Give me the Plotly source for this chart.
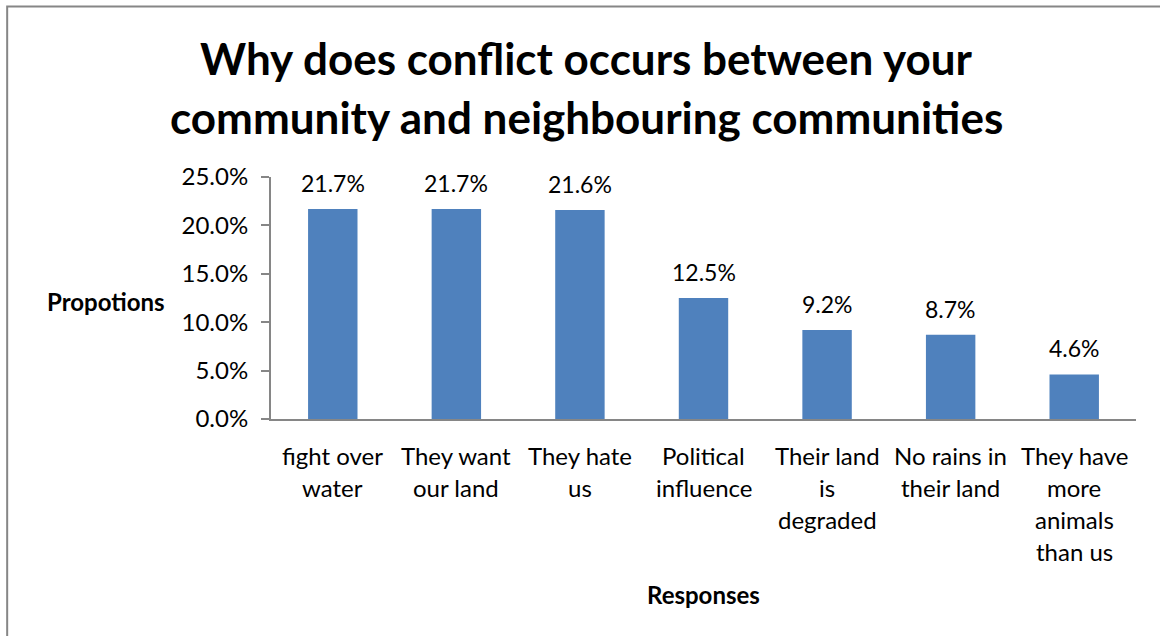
import plotly.graph_objects as go

# Survey responses and their shares (fraction of respondents)
categories = [
    "fight over water",
    "They want our land",
    "They hate us",
    "Political influence",
    "Their land is degraded",
    "No rains in their land",
    "They have more animals than us",
]
label_lines = [
    ["fight over", "water"],
    ["They want", "our land"],
    ["They hate", "us"],
    ["Political", "influence"],
    ["Their land", "is", "degraded"],
    ["No rains in", "their land"],
    ["They have", "more", "animals", "than us"],
]
proportions = [0.217, 0.217, 0.216, 0.125, 0.092, 0.087, 0.046]
y_ticks = [0.0, 0.05, 0.10, 0.15, 0.20, 0.25]

FONT = "Lato, Calibri, Carlito, sans-serif"
BAR = "#4F81BD"
AXIS = "#868686"

fig = go.Figure(
    go.Bar(
        x=categories,
        y=proportions,
        marker=dict(color=BAR, line=dict(width=0)),
        hoverinfo="skip",
    )
)

annotations = []
# value labels above the bars
for cat, v in zip(categories, proportions):
    annotations.append(dict(
        x=cat, y=v, xref="x", yref="y", text=f"{v*100:.1f}%",
        showarrow=False, yanchor="bottom", yshift=10,
        font=dict(family=FONT, size=23, color="#000000"),
    ))
# wrapped category labels under the axis
for cat, lines in zip(categories, label_lines):
    for i, line in enumerate(lines):
        annotations.append(dict(
            x=cat, y=0, xref="x", yref="y", text=line,
            showarrow=False, yanchor="middle", yshift=-36 - 32 * i,
            font=dict(family=FONT, size=24, color="#000000"),
        ))
# chart title (two lines)
for i, line in enumerate(["Why does conflict occurs between your",
                          "community and neighbouring communities"]):
    annotations.append(dict(
        x=0.365, y=1, xref="paper", yref="paper", text=f"<b>{line}</b>",
        showarrow=False, yanchor="middle", yshift=119 - 59 * i,
        font=dict(family=FONT, size=44, color="#000000"),
    ))
# axis titles
annotations.append(dict(
    x=0, y=0.5, xref="paper", yref="paper", text="<b>Propotions</b>",
    showarrow=False, xanchor="right", xshift=-104, yanchor="middle", yshift=-3,
    font=dict(family=FONT, size=24, color="#000000"),
))
annotations.append(dict(
    x=0.5, y=0, xref="paper", yref="paper", text="<b>Responses</b>",
    showarrow=False, yanchor="middle", yshift=-175,
    font=dict(family=FONT, size=24, color="#000000"),
))

fig.update_layout(
    width=1160,
    height=636,
    margin=dict(l=271, r=24, t=177, b=217),
    paper_bgcolor="#FFFFFF",
    plot_bgcolor="#FFFFFF",
    bargap=0.6,
    showlegend=False,
    annotations=annotations,
    shapes=[dict(
        type="rect", xref="paper", yref="paper",
        x0=-0.305, x1=1.2, y0=-1.0, y1=1.705,
        line=dict(color=AXIS, width=2), fillcolor="rgba(0,0,0,0)", layer="below",
    )],
    xaxis=dict(
        showticklabels=False, showgrid=False, zeroline=False,
        showline=True, linecolor=AXIS, linewidth=2, ticks="",
    ),
    yaxis=dict(
        range=[0, 0.25], tickvals=y_ticks, tickformat=".1%",
        showgrid=False, zeroline=False,
        showline=True, linecolor=AXIS, linewidth=2,
        ticks="outside", ticklen=8, tickcolor=AXIS, tickwidth=2,
        tickfont=dict(family=FONT, size=24, color="#000000"),
        ticklabelstandoff=8,
    ),
)

fig.write_html("out.html")
